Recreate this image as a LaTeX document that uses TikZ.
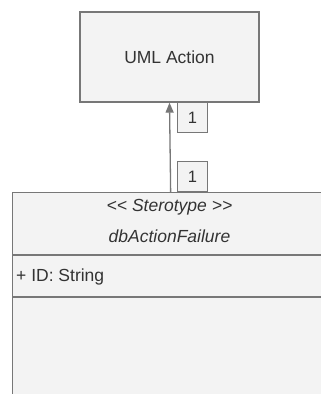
\documentclass[tikz,border=0pt]{standalone}
\usepackage{fontspec}
\setmainfont{Liberation Sans}
\usetikzlibrary{arrows.meta,positioning}
\definecolor{boxfill}{HTML}{F3F3F3}
\definecolor{boxline}{HTML}{777777}
\definecolor{txt}{HTML}{333333}
\tikzset{
  umlbox/.style={draw=boxline, line width=1.3pt, fill=boxfill, inner sep=0pt},
  multbox/.style={draw=boxline, line width=1.1pt, fill=boxfill, inner sep=0pt,
    minimum width=30pt, minimum height=30pt, text=txt, font=\fontsize{16.5}{19}\selectfont},
  lbl/.style={text=txt, font=\fontsize{17.5}{21}\selectfont, inner sep=0pt},
  assoc/.style={draw=boxline, line width=1.3pt, -{Triangle[length=10pt,width=8pt]}}
}
\begin{document}
\begin{tikzpicture}[x=1pt,y=-1pt]
  \useasboundingbox (0,0) rectangle (321,394);
  \clip (0,0) rectangle (321,394);
  \fill[white] (0,0) rectangle (321,394);

  % target action
  \node[umlbox, minimum width=179pt, minimum height=90pt] (act) at (169.5,57) {};
  \node[lbl] (actname) at (act.center) {UML Action};

  % class box, running past the right and bottom edges
  \node[umlbox, anchor=north west, minimum width=316pt, minimum height=240pt] (cls) at (12,192) {};
  \coordinate (sepA) at (12,255);
  \coordinate (sepB) at (12,297);
  \draw[draw=boxline, line width=1.3pt] (sepA) -- (sepA -| cls.east);
  \draw[draw=boxline, line width=1.3pt] (sepB) -- (sepB -| cls.east);
  \node[lbl, font=\fontsize{17.5}{21}\itshape] (stereo) at (169.5,207) {<{}< Sterotype >{}>};
  \node[lbl, font=\fontsize{17.5}{21}\itshape] (cname) at (169.5,236) {dbActionFailure};
  \node[lbl, anchor=west] (attr) at (16,277) {+ ID: String};

  % association with multiplicities
  \draw[assoc] (cls.north) -- (act.south);
  \node[multbox, anchor=north west] (mtop) at (177,102) {1};
  \node[multbox, anchor=south west] (mbot) at (177,192) {1};
\end{tikzpicture}
\end{document}
